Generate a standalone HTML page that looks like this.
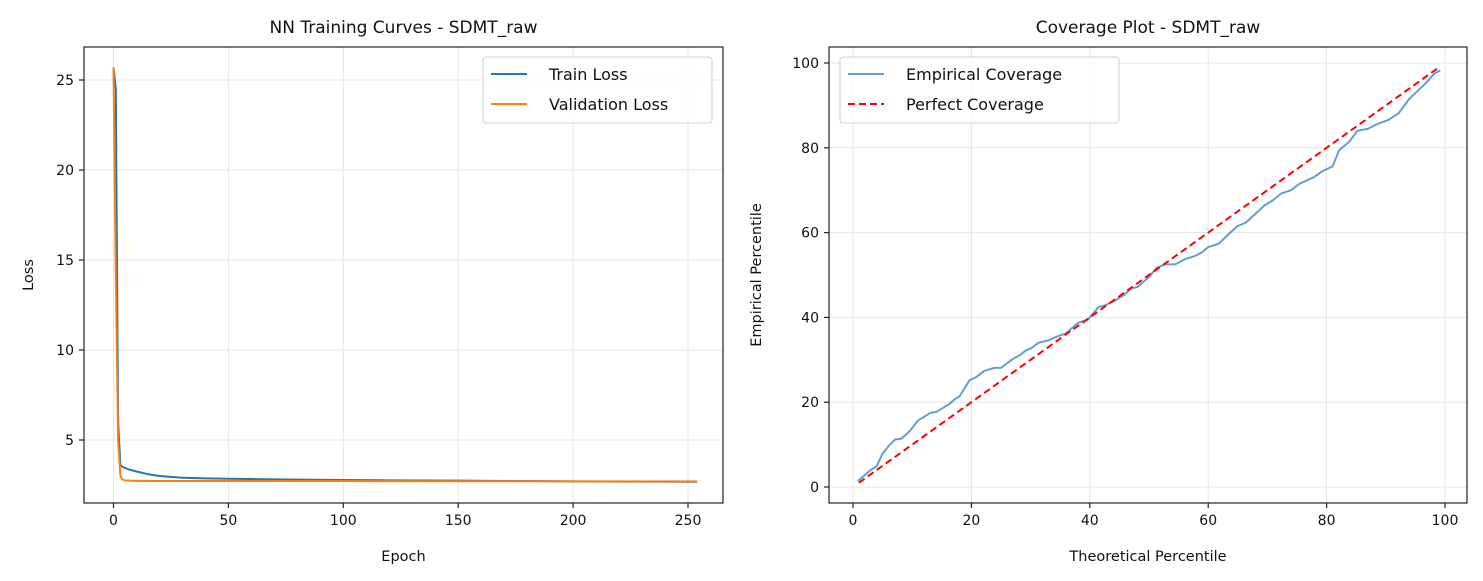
<!DOCTYPE html>
<html><head><meta charset="utf-8"><style>
html,body{margin:0;padding:0;background:#fff;}
svg{display:block;font-family:"DejaVu Sans","Liberation Sans",sans-serif;}
</style></head><body>
<svg id="s" width="1483" height="581" viewBox="0 0 1483 581" xmlns="http://www.w3.org/2000/svg">
<g id="L"></g>
<g id="R"></g>
</svg>
<script>
const trainEpochs=[0,1,2,3,4,5,7,10,15,20,25,30,40,50,60,80,100,120,150,180,200,230,254];
const trainLoss=[25.7,24.5,6.0,3.6,3.5,3.45,3.35,3.25,3.1,3.0,2.95,2.9,2.87,2.85,2.83,2.8,2.78,2.76,2.74,2.72,2.7,2.69,2.68];
const valEpochs=[0,1,2,3,4,5,7,10,20,50,100,150,200,254];
const valLoss=[25.7,14.0,5.0,3.0,2.8,2.76,2.74,2.73,2.72,2.72,2.72,2.71,2.7,2.7];
const lossXTicks=[0,50,100,150,200,250];
const lossYTicks=[5,10,15,20,25];
const covP=[0.8,2.9,4,5,6.1,7.1,8.2,9.6,11,13.1,14.1,16.2,17.3,18,19.7,20.8,22.2,23.9,25,27.1,28.2,29.2,30.3,31.3,33,34.5,35.9,38,39.7,41.5,42.5,44.3,45.7,47,48.1,49.9,51.3,52.7,54.4,56.2,57.6,59,60,61.8,63.5,64.9,66.3,68.1,69.5,70.9,72.3,74,75.4,76.5,77.9,79.3,81,82.1,83.8,85.2,87,88.4,90.5,92.2,94,96.8,98.2,99.2];
const covV=[1.4,3.9,4.9,7.9,9.8,11.2,11.4,13.2,15.7,17.5,17.7,19.5,20.8,21.4,25.2,25.9,27.4,28.1,28.1,30.3,31.1,32.2,32.9,34,34.6,35.5,36.2,38.7,39.5,42.5,42.8,44,45.2,46.8,47.2,49.4,51.7,52.5,52.5,53.8,54.4,55.4,56.6,57.4,59.7,61.5,62.3,64.6,66.4,67.6,69.2,70,71.5,72.2,73.1,74.5,75.6,79.4,81.4,84,84.5,85.5,86.6,88.2,91.6,95.3,97.5,98.3];
const perfectP=[1,99];
const covTicks=[0,20,40,60,80,100];

const NS="http://www.w3.org/2000/svg";
function mk(parent,tag,attrs,text){const e=document.createElementNS(NS,tag);for(const k in attrs)e.setAttribute(k,attrs[k]);if(text!==undefined)e.textContent=text;parent.appendChild(e);return e;}

function panel(g,box,xs,ys,xt,yt,title,xl,yl){
  xt.forEach(t=>{const l=mk(g,'line',{x1:xs(t),x2:xs(t),y1:box.t,y2:box.b,stroke:'#e6e6e6','stroke-width':1});
    
    });
  yt.forEach(t=>{const l=mk(g,'line',{x1:box.l,x2:box.r,y1:ys(t),y2:ys(t),stroke:'#e6e6e6','stroke-width':1});
    
    });
  xt.forEach(t=>{mk(g,'line',{x1:xs(t),x2:xs(t),y1:box.b,y2:box.b+5,stroke:'#222','stroke-width':1.2});
    const tx=mk(g,'text',{x:xs(t),y:box.b+22,'font-size':14,'text-anchor':'middle',fill:'#111'},t);
    
    });
  yt.forEach(t=>{mk(g,'line',{x1:box.l-5,x2:box.l,y1:ys(t),y2:ys(t),stroke:'#222','stroke-width':1.2});
    const tx=mk(g,'text',{x:box.l-10,y:ys(t)+5,'font-size':14,'text-anchor':'end',fill:'#111'},t);
    
    });
  const ti=mk(g,'text',{x:(box.l+box.r)/2,y:33,'font-size':17,'text-anchor':'middle',fill:'#111'},title);
  
  
  const xa=mk(g,'text',{x:(box.l+box.r)/2,y:561,'font-size':14.5,'text-anchor':'middle',fill:'#111'},xl);
  
  
  const cx=box.l-(box.l>500?68:51), cy=(box.t+box.b)/2;
  const ya=mk(g,'text',{x:cx,y:cy,'font-size':14.5,'text-anchor':'middle',fill:'#111',transform:`rotate(-90 ${cx} ${cy})`},yl);
  
  
}
function frame(g,box){const f=mk(g,'rect',{x:box.l,y:box.t,width:box.r-box.l,height:box.b-box.t,fill:'none',stroke:'#222','stroke-width':1.2});
  
  }
function line(g,xsArr,ysArr,xs,ys,attrs,name){const d=xsArr.map((x,i)=>(i?'L':'M')+xs(x).toFixed(2)+' '+ys(ysArr[i]).toFixed(2)).join(' ');
  const p=mk(g,'path',Object.assign({d:d,fill:'none','stroke-linejoin':'round'},attrs));
  
  return p;}
function legend(g,x,y,w,items){const r=mk(g,'rect',{x:x,y:y,width:w,height:66,rx:3,fill:'#fff','fill-opacity':0.8,stroke:'#d0d0d0'});
  
  
  items.forEach((it,i)=>{const yy=y+17+i*30;
    const l=mk(g,'line',Object.assign({x1:x+8,x2:x+44,y1:yy,y2:yy},it.s));
    
    
    const t=mk(g,'text',{x:x+66,y:yy+6,'font-size':16,fill:'#111'},it.t);
    
    });}

const LB={l:84,r:723,t:47,b:503};
const lx=v=>113.5+v*2.298, ly=v=>440-(v-5)*18;
const L=document.getElementById('L');
panel(L,LB,lx,ly,lossXTicks,lossYTicks,'NN Training Curves - SDMT_raw','Epoch','Loss');
line(L,trainEpochs,trainLoss,lx,ly,{stroke:'#1f77b4','stroke-width':2},'train-loss-line');
line(L,valEpochs,valLoss,lx,ly,{stroke:'#ff7f0e','stroke-width':2},'validation-loss-line');
frame(L,LB);
legend(L,483,57,229,[{t:'Train Loss',s:{stroke:'#1f77b4','stroke-width':2}},{t:'Validation Loss',s:{stroke:'#ff7f0e','stroke-width':2}}]);

const RB={l:829,r:1467,t:47,b:503};
const rx=v=>853+v*5.92, ry=v=>487-v*4.24;
const R=document.getElementById('R');
panel(R,RB,rx,ry,covTicks,covTicks,'Coverage Plot - SDMT_raw','Theoretical Percentile','Empirical Percentile');
line(R,covP,covV,rx,ry,{stroke:'#1f77b4','stroke-opacity':0.7,'stroke-width':2},'empirical-coverage-line');
line(R,perfectP,perfectP,rx,ry,{stroke:'#ff0000','stroke-width':2,'stroke-dasharray':'7,4'},'perfect-coverage-line');
frame(R,RB);
legend(R,840,57,279,[{t:'Empirical Coverage',s:{stroke:'#1f77b4','stroke-opacity':0.7,'stroke-width':2}},{t:'Perfect Coverage',s:{stroke:'#ff0000','stroke-width':2,'stroke-dasharray':'7,4'}}]);
</script>
</body></html>
